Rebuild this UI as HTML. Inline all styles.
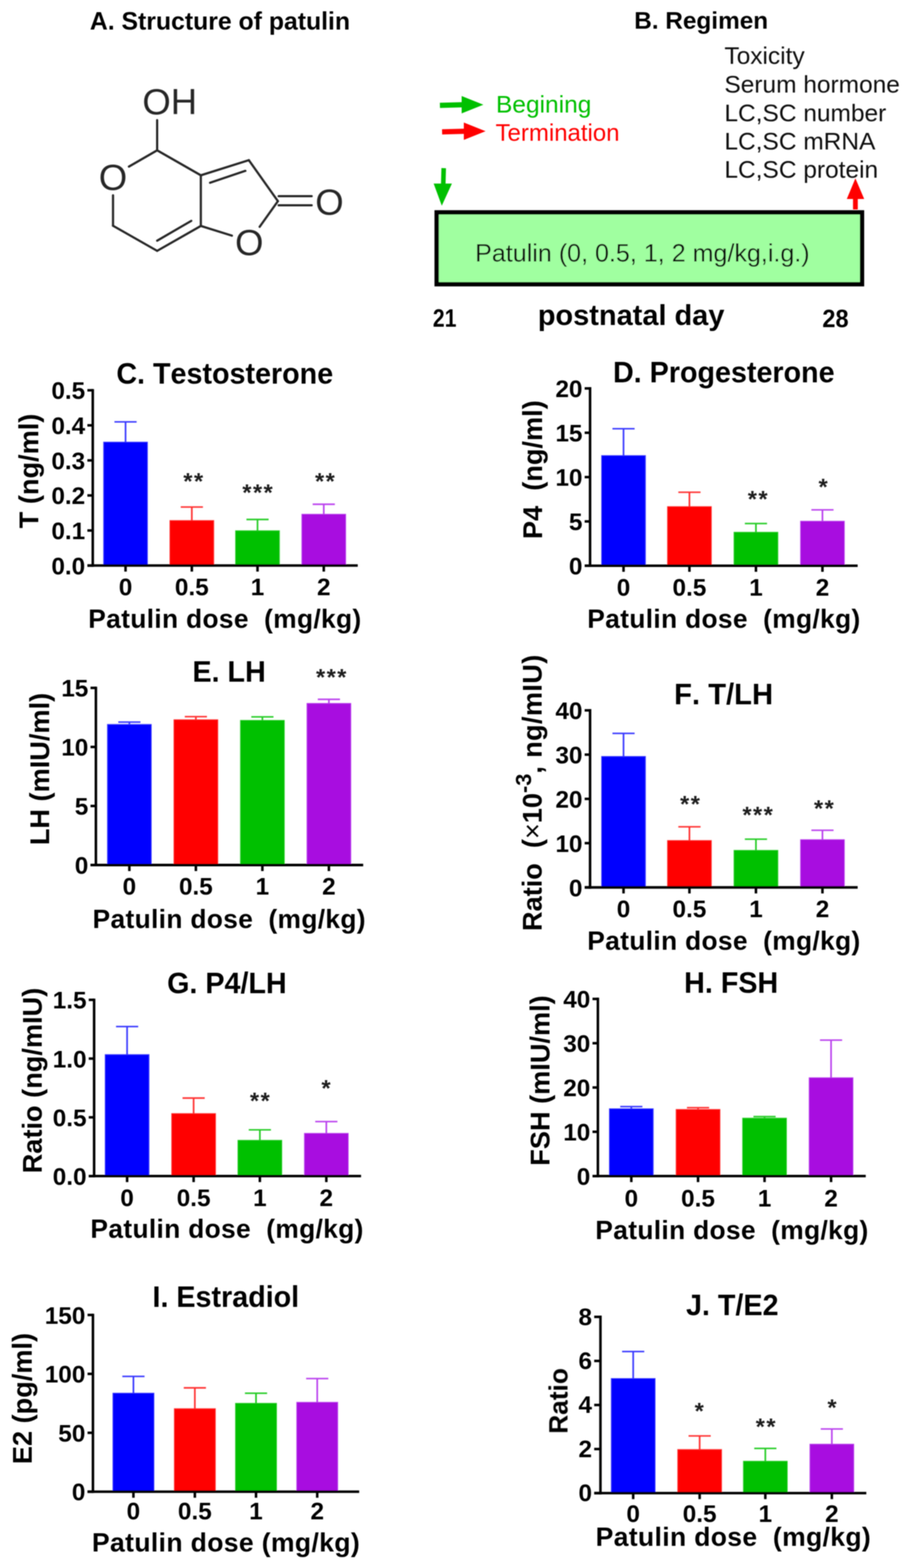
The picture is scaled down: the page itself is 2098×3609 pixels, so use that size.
<!DOCTYPE html>
<html lang="en">
<head>
<meta charset="utf-8">
<title>Patulin regimen and serum hormone levels</title>
<style>
html,body{margin:0;padding:0;background:#fff;}
body{width:2098px;height:3609px;overflow:hidden;}
svg{display:block;}
svg text{font-family:"Liberation Sans", sans-serif;white-space:pre;}
</style>
</head>
<body>
<svg width="2098" height="3609" viewBox="0 0 2098 3609">
<defs><filter id="soft" x="0" y="0" width="2098" height="3609" filterUnits="userSpaceOnUse"><feGaussianBlur stdDeviation="1"/></filter></defs>
<rect x="0" y="0" width="2098" height="3609" fill="#ffffff"/>
<g filter="url(#soft)">
<text x="506" y="68" font-size="57" font-weight="bold" text-anchor="middle" fill="#000">A. Structure of patulin</text>
<g id="patulin-structure">
<line x1="361.5" y1="276.5" x2="361.5" y2="346" stroke="#262626" stroke-width="5" stroke-linecap="round"/>
<line x1="361.5" y1="346" x2="296.5" y2="383.5" stroke="#262626" stroke-width="5" stroke-linecap="round"/>
<line x1="260" y1="449.5" x2="260" y2="519.6" stroke="#262626" stroke-width="5" stroke-linecap="round"/>
<line x1="260" y1="519.6" x2="361.5" y2="577.3" stroke="#262626" stroke-width="5" stroke-linecap="round"/>
<line x1="361.5" y1="577.3" x2="462" y2="520" stroke="#262626" stroke-width="5" stroke-linecap="round"/>
<line x1="462" y1="520" x2="462" y2="403.5" stroke="#262626" stroke-width="5" stroke-linecap="round"/>
<line x1="462" y1="403.5" x2="361.5" y2="346" stroke="#262626" stroke-width="5" stroke-linecap="round"/>
<line x1="462" y1="403.5" x2="572.5" y2="368.7" stroke="#262626" stroke-width="5" stroke-linecap="round"/>
<line x1="572.5" y1="368.7" x2="639.3" y2="463" stroke="#262626" stroke-width="5" stroke-linecap="round"/>
<line x1="639.3" y1="463" x2="597.3" y2="522" stroke="#262626" stroke-width="5" stroke-linecap="round"/>
<line x1="533.5" y1="542.4" x2="462" y2="520" stroke="#262626" stroke-width="5" stroke-linecap="round"/>
<line x1="361.5" y1="554" x2="440" y2="508.3" stroke="#262626" stroke-width="5" stroke-linecap="round"/>
<line x1="483.2" y1="420.6" x2="564.5" y2="393.2" stroke="#262626" stroke-width="5" stroke-linecap="round"/>
<line x1="641" y1="451.6" x2="717" y2="451.6" stroke="#262626" stroke-width="5" stroke-linecap="round"/>
<line x1="641" y1="472.6" x2="717" y2="472.6" stroke="#262626" stroke-width="5" stroke-linecap="round"/>
<text x="327.5" y="262.5" font-size="84" font-weight="normal" text-anchor="start" fill="#262626">OH</text>
<text x="260" y="436.5" font-size="84" font-weight="normal" text-anchor="middle" fill="#262626">O</text>
<text x="573.5" y="586.5" font-size="84" font-weight="normal" text-anchor="middle" fill="#262626">O</text>
<text x="757.8" y="493.8" font-size="84" font-weight="normal" text-anchor="middle" fill="#262626">O</text>
</g>
<g id="regimen">
<text x="1613" y="65.6" font-size="56" font-weight="bold" text-anchor="middle" fill="#000">B. Regimen</text>
<text x="1666.5" y="147" font-size="56.3" font-weight="normal" text-anchor="start" fill="#111">Toxicity</text>
<text x="1666.5" y="213" font-size="56.3" font-weight="normal" text-anchor="start" fill="#111">Serum hormone</text>
<text x="1666.5" y="278.5" font-size="56.3" font-weight="normal" text-anchor="start" fill="#111">LC,SC number</text>
<text x="1666.5" y="343.5" font-size="56.3" font-weight="normal" text-anchor="start" fill="#111">LC,SC mRNA</text>
<text x="1666.5" y="409" font-size="56.3" font-weight="normal" text-anchor="start" fill="#111">LC,SC protein</text>
<line x1="1012" y1="242.5" x2="1068" y2="241" stroke="#00c000" stroke-width="12" stroke-linecap="butt"/>
<polygon points="1112,241 1062,221 1062,261" fill="#00c000"/>
<line x1="1017" y1="303.5" x2="1073" y2="302" stroke="#ff0000" stroke-width="12" stroke-linecap="butt"/>
<polygon points="1117,302 1067,282 1067,322" fill="#ff0000"/>
<text x="1141" y="258.6" font-size="56.4" font-weight="normal" text-anchor="start" fill="#00c000">Begining</text>
<text x="1140" y="323.5" font-size="55.2" font-weight="normal" text-anchor="start" fill="#ff0000">Termination</text>
<line x1="1020.7" y1="387" x2="1019.5" y2="432" stroke="#00c000" stroke-width="10.5" stroke-linecap="butt"/>
<polygon points="1016.3,473.5 997.6,422.4 1039.6,422.4" fill="#00c000"/>
<line x1="1967.8" y1="482" x2="1967.8" y2="450" stroke="#ff0000" stroke-width="11" stroke-linecap="butt"/>
<polygon points="1967.8,410.5 1948,458 1988,458" fill="#ff0000"/>
<rect x="1004.5" y="488.8" width="978.5" height="165.4" fill="#a0ffa0" stroke="#000" stroke-width="10"/>
<text x="1093" y="601.8" font-size="57.7" font-weight="normal" text-anchor="start" fill="#111">Patulin (0, 0.5, 1, 2 mg/kg,i.g.)</text>
<text transform="translate(995.8 752) scale(0.84 1)" font-size="58" font-weight="bold" fill="#000">21</text>
<text x="1237.2" y="747.8" font-size="66.6" font-weight="bold" text-anchor="start" fill="#000">postnatal day</text>
<text transform="translate(1891.8 752.5) scale(0.935 1)" font-size="58" font-weight="bold" fill="#000">28</text>
</g>
<g id="charts" style="font-kerning:none">
<line x1="288.8" y1="971" x2="288.8" y2="1019" stroke="#3a3aff" stroke-width="3.8" stroke-linecap="butt"/>
<line x1="263.3" y1="971" x2="314.3" y2="971" stroke="#3a3aff" stroke-width="3.6" stroke-linecap="butt"/>
<rect x="238.3" y="1017.5" width="101" height="284.20000000000005" fill="#0000ff" stroke="#3a3aff" stroke-width="1.6"/>
<line x1="441.3" y1="1167" x2="441.3" y2="1199.5" stroke="#ff3030" stroke-width="3.8" stroke-linecap="butt"/>
<line x1="415.8" y1="1167" x2="466.8" y2="1167" stroke="#ff3030" stroke-width="3.6" stroke-linecap="butt"/>
<rect x="390.8" y="1198.0" width="101" height="103.70000000000005" fill="#ff0000" stroke="#ff3030" stroke-width="1.6"/>
<line x1="592.4" y1="1195.6" x2="592.4" y2="1223" stroke="#28cc28" stroke-width="3.8" stroke-linecap="butt"/>
<line x1="566.9" y1="1195.6" x2="617.9" y2="1195.6" stroke="#28cc28" stroke-width="3.6" stroke-linecap="butt"/>
<rect x="541.9" y="1221.5" width="101" height="80.20000000000005" fill="#00c000" stroke="#28cc28" stroke-width="1.6"/>
<line x1="744.8" y1="1160.6" x2="744.8" y2="1185" stroke="#bb44ee" stroke-width="3.8" stroke-linecap="butt"/>
<line x1="719.3" y1="1160.6" x2="770.3" y2="1160.6" stroke="#bb44ee" stroke-width="3.6" stroke-linecap="butt"/>
<rect x="694.3" y="1183.5" width="101" height="118.20000000000005" fill="#a808e0" stroke="#bb44ee" stroke-width="1.6"/>
<line x1="213.4" y1="895.4" x2="213.4" y2="1304.6000000000001" stroke="#000" stroke-width="5.8" stroke-linecap="butt"/>
<line x1="201.0" y1="1301.7" x2="823" y2="1301.7" stroke="#000" stroke-width="5.8" stroke-linecap="butt"/>
<line x1="201.0" y1="1301.7" x2="213.4" y2="1301.7" stroke="#000" stroke-width="5.8" stroke-linecap="butt"/>
<text x="196.0" y="1321.748" font-size="56" font-weight="bold" text-anchor="end" fill="#000">0.0</text>
<line x1="201.0" y1="1221.02" x2="213.4" y2="1221.02" stroke="#000" stroke-width="5.8" stroke-linecap="butt"/>
<text x="196.0" y="1241.068" font-size="56" font-weight="bold" text-anchor="end" fill="#000">0.1</text>
<line x1="201.0" y1="1140.34" x2="213.4" y2="1140.34" stroke="#000" stroke-width="5.8" stroke-linecap="butt"/>
<text x="196.0" y="1160.388" font-size="56" font-weight="bold" text-anchor="end" fill="#000">0.2</text>
<line x1="201.0" y1="1059.66" x2="213.4" y2="1059.66" stroke="#000" stroke-width="5.8" stroke-linecap="butt"/>
<text x="196.0" y="1079.708" font-size="56" font-weight="bold" text-anchor="end" fill="#000">0.3</text>
<line x1="201.0" y1="978.98" x2="213.4" y2="978.98" stroke="#000" stroke-width="5.8" stroke-linecap="butt"/>
<text x="196.0" y="999.028" font-size="56" font-weight="bold" text-anchor="end" fill="#000">0.4</text>
<line x1="201.0" y1="898.3" x2="213.4" y2="898.3" stroke="#000" stroke-width="5.8" stroke-linecap="butt"/>
<text x="196.0" y="918.348" font-size="56" font-weight="bold" text-anchor="end" fill="#000">0.5</text>
<line x1="288.8" y1="1301.7" x2="288.8" y2="1315.6000000000001" stroke="#000" stroke-width="5.8" stroke-linecap="butt"/>
<text x="288.8" y="1370" font-size="56" font-weight="bold" text-anchor="middle" fill="#000">0</text>
<line x1="441.3" y1="1301.7" x2="441.3" y2="1315.6000000000001" stroke="#000" stroke-width="5.8" stroke-linecap="butt"/>
<text x="441.3" y="1370" font-size="56" font-weight="bold" text-anchor="middle" fill="#000">0.5</text>
<line x1="592.4" y1="1301.7" x2="592.4" y2="1315.6000000000001" stroke="#000" stroke-width="5.8" stroke-linecap="butt"/>
<text x="592.4" y="1370" font-size="56" font-weight="bold" text-anchor="middle" fill="#000">1</text>
<line x1="744.8" y1="1301.7" x2="744.8" y2="1315.6000000000001" stroke="#000" stroke-width="5.8" stroke-linecap="butt"/>
<text x="744.8" y="1370" font-size="56" font-weight="bold" text-anchor="middle" fill="#000">2</text>
<text transform="translate(517 883) scale(0.9565 1)" font-size="69" font-weight="bold" text-anchor="middle" fill="#000">C. Testosterone</text>
<text x="517.4" y="1445" font-size="60.5" font-weight="bold" text-anchor="middle" fill="#000" xml:space="preserve" letter-spacing="0.8">Patulin dose  (mg/kg)</text>
<text x="88" y="1084" font-size="62.5" font-weight="bold" text-anchor="middle" fill="#000" transform="rotate(-90 88 1084)" xml:space="preserve">T (ng/ml)</text>
<text transform="translate(446.2 1126.4) scale(1 0.98)" font-size="54" font-weight="bold" text-anchor="middle" fill="#1c1c1c" letter-spacing="3.4">**</text>
<text transform="translate(594.1 1151.5) scale(1 0.98)" font-size="54" font-weight="bold" text-anchor="middle" fill="#1c1c1c" letter-spacing="3.4">***</text>
<text transform="translate(749.1 1126.4) scale(1 0.98)" font-size="54" font-weight="bold" text-anchor="middle" fill="#1c1c1c" letter-spacing="3.4">**</text>
<line x1="1434.4" y1="986.8" x2="1434.4" y2="1050" stroke="#3a3aff" stroke-width="3.8" stroke-linecap="butt"/>
<line x1="1408.9" y1="986.8" x2="1459.9" y2="986.8" stroke="#3a3aff" stroke-width="3.6" stroke-linecap="butt"/>
<rect x="1383.9" y="1048.5" width="101" height="253.70000000000005" fill="#0000ff" stroke="#3a3aff" stroke-width="1.6"/>
<line x1="1586.0" y1="1133" x2="1586.0" y2="1167.5" stroke="#ff3030" stroke-width="3.8" stroke-linecap="butt"/>
<line x1="1560.5" y1="1133" x2="1611.5" y2="1133" stroke="#ff3030" stroke-width="3.6" stroke-linecap="butt"/>
<rect x="1535.5" y="1166.0" width="101" height="136.20000000000005" fill="#ff0000" stroke="#ff3030" stroke-width="1.6"/>
<line x1="1739.0" y1="1205" x2="1739.0" y2="1226.5" stroke="#28cc28" stroke-width="3.8" stroke-linecap="butt"/>
<line x1="1713.5" y1="1205" x2="1764.5" y2="1205" stroke="#28cc28" stroke-width="3.6" stroke-linecap="butt"/>
<rect x="1688.5" y="1225.0" width="101" height="77.20000000000005" fill="#00c000" stroke="#28cc28" stroke-width="1.6"/>
<line x1="1892.0" y1="1173.5" x2="1892.0" y2="1201" stroke="#bb44ee" stroke-width="3.8" stroke-linecap="butt"/>
<line x1="1866.5" y1="1173.5" x2="1917.5" y2="1173.5" stroke="#bb44ee" stroke-width="3.6" stroke-linecap="butt"/>
<rect x="1841.5" y="1199.5" width="101" height="102.70000000000005" fill="#a808e0" stroke="#bb44ee" stroke-width="1.6"/>
<line x1="1357.4" y1="891.1" x2="1357.4" y2="1305.1000000000001" stroke="#000" stroke-width="5.8" stroke-linecap="butt"/>
<line x1="1345.0" y1="1302.2" x2="1973" y2="1302.2" stroke="#000" stroke-width="5.8" stroke-linecap="butt"/>
<line x1="1345.0" y1="1302.2" x2="1357.4" y2="1302.2" stroke="#000" stroke-width="5.8" stroke-linecap="butt"/>
<text x="1340.0" y="1322.248" font-size="56" font-weight="bold" text-anchor="end" fill="#000">0</text>
<line x1="1345.0" y1="1200.15" x2="1357.4" y2="1200.15" stroke="#000" stroke-width="5.8" stroke-linecap="butt"/>
<text x="1340.0" y="1220.198" font-size="56" font-weight="bold" text-anchor="end" fill="#000">5</text>
<line x1="1345.0" y1="1098.1" x2="1357.4" y2="1098.1" stroke="#000" stroke-width="5.8" stroke-linecap="butt"/>
<text x="1340.0" y="1118.148" font-size="56" font-weight="bold" text-anchor="end" fill="#000">10</text>
<line x1="1345.0" y1="996.05" x2="1357.4" y2="996.05" stroke="#000" stroke-width="5.8" stroke-linecap="butt"/>
<text x="1340.0" y="1016.098" font-size="56" font-weight="bold" text-anchor="end" fill="#000">15</text>
<line x1="1345.0" y1="894.0" x2="1357.4" y2="894.0" stroke="#000" stroke-width="5.8" stroke-linecap="butt"/>
<text x="1340.0" y="914.048" font-size="56" font-weight="bold" text-anchor="end" fill="#000">20</text>
<line x1="1434.4" y1="1302.2" x2="1434.4" y2="1316.1000000000001" stroke="#000" stroke-width="5.8" stroke-linecap="butt"/>
<text x="1434.4" y="1370.5" font-size="56" font-weight="bold" text-anchor="middle" fill="#000">0</text>
<line x1="1586.0" y1="1302.2" x2="1586.0" y2="1316.1000000000001" stroke="#000" stroke-width="5.8" stroke-linecap="butt"/>
<text x="1586.0" y="1370.5" font-size="56" font-weight="bold" text-anchor="middle" fill="#000">0.5</text>
<line x1="1739.0" y1="1302.2" x2="1739.0" y2="1316.1000000000001" stroke="#000" stroke-width="5.8" stroke-linecap="butt"/>
<text x="1739.0" y="1370.5" font-size="56" font-weight="bold" text-anchor="middle" fill="#000">1</text>
<line x1="1892.0" y1="1302.2" x2="1892.0" y2="1316.1000000000001" stroke="#000" stroke-width="5.8" stroke-linecap="butt"/>
<text x="1892.0" y="1370.5" font-size="56" font-weight="bold" text-anchor="middle" fill="#000">2</text>
<text transform="translate(1665 880) scale(0.9565 1)" font-size="69" font-weight="bold" text-anchor="middle" fill="#000">D. Progesterone</text>
<text x="1665.4" y="1445" font-size="60.5" font-weight="bold" text-anchor="middle" fill="#000" xml:space="preserve" letter-spacing="0.8">Patulin dose  (mg/kg)</text>
<text x="1247" y="1081" font-size="62.5" font-weight="bold" text-anchor="middle" fill="#000" transform="rotate(-90 1247 1081)" xml:space="preserve">P4  (ng/ml)</text>
<text transform="translate(1744.7 1167.3) scale(1 0.98)" font-size="54" font-weight="bold" text-anchor="middle" fill="#1c1c1c" letter-spacing="3.4">**</text>
<text transform="translate(1895.1 1138.9) scale(1 0.98)" font-size="54" font-weight="bold" text-anchor="middle" fill="#1c1c1c" letter-spacing="3.4">*</text>
<line x1="297.6" y1="1662" x2="297.6" y2="1668.8" stroke="#3a3aff" stroke-width="3.8" stroke-linecap="butt"/>
<line x1="272.1" y1="1662" x2="323.1" y2="1662" stroke="#3a3aff" stroke-width="3.6" stroke-linecap="butt"/>
<rect x="247.1" y="1667.3" width="101" height="323.70000000000005" fill="#0000ff" stroke="#3a3aff" stroke-width="1.6"/>
<line x1="450.6" y1="1649.5" x2="450.6" y2="1658" stroke="#ff3030" stroke-width="3.8" stroke-linecap="butt"/>
<line x1="425.1" y1="1649.5" x2="476.1" y2="1649.5" stroke="#ff3030" stroke-width="3.6" stroke-linecap="butt"/>
<rect x="400.1" y="1656.5" width="101" height="334.5" fill="#ff0000" stroke="#ff3030" stroke-width="1.6"/>
<line x1="603.6" y1="1650" x2="603.6" y2="1659.5" stroke="#28cc28" stroke-width="3.8" stroke-linecap="butt"/>
<line x1="578.1" y1="1650" x2="629.1" y2="1650" stroke="#28cc28" stroke-width="3.6" stroke-linecap="butt"/>
<rect x="553.1" y="1658.0" width="101" height="333.0" fill="#00c000" stroke="#28cc28" stroke-width="1.6"/>
<line x1="756.6" y1="1609.6" x2="756.6" y2="1620.4" stroke="#bb44ee" stroke-width="3.8" stroke-linecap="butt"/>
<line x1="731.1" y1="1609.6" x2="782.1" y2="1609.6" stroke="#bb44ee" stroke-width="3.6" stroke-linecap="butt"/>
<rect x="706.1" y="1618.9" width="101" height="372.0999999999999" fill="#a808e0" stroke="#bb44ee" stroke-width="1.6"/>
<line x1="220.6" y1="1580.3999999999999" x2="220.6" y2="1993.9" stroke="#000" stroke-width="5.8" stroke-linecap="butt"/>
<line x1="208.2" y1="1991" x2="835.5" y2="1991" stroke="#000" stroke-width="5.8" stroke-linecap="butt"/>
<line x1="208.2" y1="1991.0" x2="220.6" y2="1991.0" stroke="#000" stroke-width="5.8" stroke-linecap="butt"/>
<text x="203.2" y="2011.048" font-size="56" font-weight="bold" text-anchor="end" fill="#000">0</text>
<line x1="208.2" y1="1855.1" x2="220.6" y2="1855.1" stroke="#000" stroke-width="5.8" stroke-linecap="butt"/>
<text x="203.2" y="1875.148" font-size="56" font-weight="bold" text-anchor="end" fill="#000">5</text>
<line x1="208.2" y1="1719.2" x2="220.6" y2="1719.2" stroke="#000" stroke-width="5.8" stroke-linecap="butt"/>
<text x="203.2" y="1739.248" font-size="56" font-weight="bold" text-anchor="end" fill="#000">10</text>
<line x1="208.2" y1="1583.3" x2="220.6" y2="1583.3" stroke="#000" stroke-width="5.8" stroke-linecap="butt"/>
<text x="203.2" y="1603.348" font-size="56" font-weight="bold" text-anchor="end" fill="#000">15</text>
<line x1="297.6" y1="1991" x2="297.6" y2="2004.9" stroke="#000" stroke-width="5.8" stroke-linecap="butt"/>
<text x="297.6" y="2059.2" font-size="56" font-weight="bold" text-anchor="middle" fill="#000">0</text>
<line x1="450.6" y1="1991" x2="450.6" y2="2004.9" stroke="#000" stroke-width="5.8" stroke-linecap="butt"/>
<text x="450.6" y="2059.2" font-size="56" font-weight="bold" text-anchor="middle" fill="#000">0.5</text>
<line x1="603.6" y1="1991" x2="603.6" y2="2004.9" stroke="#000" stroke-width="5.8" stroke-linecap="butt"/>
<text x="603.6" y="2059.2" font-size="56" font-weight="bold" text-anchor="middle" fill="#000">1</text>
<line x1="756.6" y1="1991" x2="756.6" y2="2004.9" stroke="#000" stroke-width="5.8" stroke-linecap="butt"/>
<text x="756.6" y="2059.2" font-size="56" font-weight="bold" text-anchor="middle" fill="#000">2</text>
<text transform="translate(527 1568.5) scale(0.9565 1)" font-size="69" font-weight="bold" text-anchor="middle" fill="#000">E. LH</text>
<text x="527.4" y="2135.5" font-size="60.5" font-weight="bold" text-anchor="middle" fill="#000" xml:space="preserve" letter-spacing="0.8">Patulin dose  (mg/kg)</text>
<text x="113" y="1770" font-size="62.5" font-weight="bold" text-anchor="middle" fill="#000" transform="rotate(-90 113 1770)" xml:space="preserve">LH (mIU/ml)</text>
<text transform="translate(763.6 1577.0) scale(1 0.98)" font-size="54" font-weight="bold" text-anchor="middle" fill="#1c1c1c" letter-spacing="3.4">***</text>
<line x1="1434.4" y1="1688" x2="1434.4" y2="1742.5" stroke="#3a3aff" stroke-width="3.8" stroke-linecap="butt"/>
<line x1="1408.9" y1="1688" x2="1459.9" y2="1688" stroke="#3a3aff" stroke-width="3.6" stroke-linecap="butt"/>
<rect x="1383.9" y="1741.0" width="101" height="301.5" fill="#0000ff" stroke="#3a3aff" stroke-width="1.6"/>
<line x1="1586.0" y1="1903" x2="1586.0" y2="1936" stroke="#ff3030" stroke-width="3.8" stroke-linecap="butt"/>
<line x1="1560.5" y1="1903" x2="1611.5" y2="1903" stroke="#ff3030" stroke-width="3.6" stroke-linecap="butt"/>
<rect x="1535.5" y="1934.5" width="101" height="108.0" fill="#ff0000" stroke="#ff3030" stroke-width="1.6"/>
<line x1="1739.0" y1="1931.5" x2="1739.0" y2="1958.7" stroke="#28cc28" stroke-width="3.8" stroke-linecap="butt"/>
<line x1="1713.5" y1="1931.5" x2="1764.5" y2="1931.5" stroke="#28cc28" stroke-width="3.6" stroke-linecap="butt"/>
<rect x="1688.5" y="1957.2" width="101" height="85.29999999999995" fill="#00c000" stroke="#28cc28" stroke-width="1.6"/>
<line x1="1892.0" y1="1911" x2="1892.0" y2="1934" stroke="#bb44ee" stroke-width="3.8" stroke-linecap="butt"/>
<line x1="1866.5" y1="1911" x2="1917.5" y2="1911" stroke="#bb44ee" stroke-width="3.6" stroke-linecap="butt"/>
<rect x="1841.5" y="1932.5" width="101" height="110.0" fill="#a808e0" stroke="#bb44ee" stroke-width="1.6"/>
<line x1="1357.4" y1="1632.1" x2="1357.4" y2="2045.4" stroke="#000" stroke-width="5.8" stroke-linecap="butt"/>
<line x1="1345.0" y1="2042.5" x2="1973" y2="2042.5" stroke="#000" stroke-width="5.8" stroke-linecap="butt"/>
<line x1="1345.0" y1="2042.5" x2="1357.4" y2="2042.5" stroke="#000" stroke-width="5.8" stroke-linecap="butt"/>
<text x="1340.0" y="2062.548" font-size="56" font-weight="bold" text-anchor="end" fill="#000">0</text>
<line x1="1345.0" y1="1940.625" x2="1357.4" y2="1940.625" stroke="#000" stroke-width="5.8" stroke-linecap="butt"/>
<text x="1340.0" y="1960.673" font-size="56" font-weight="bold" text-anchor="end" fill="#000">10</text>
<line x1="1345.0" y1="1838.75" x2="1357.4" y2="1838.75" stroke="#000" stroke-width="5.8" stroke-linecap="butt"/>
<text x="1340.0" y="1858.798" font-size="56" font-weight="bold" text-anchor="end" fill="#000">20</text>
<line x1="1345.0" y1="1736.875" x2="1357.4" y2="1736.875" stroke="#000" stroke-width="5.8" stroke-linecap="butt"/>
<text x="1340.0" y="1756.923" font-size="56" font-weight="bold" text-anchor="end" fill="#000">30</text>
<line x1="1345.0" y1="1635.0" x2="1357.4" y2="1635.0" stroke="#000" stroke-width="5.8" stroke-linecap="butt"/>
<text x="1340.0" y="1655.048" font-size="56" font-weight="bold" text-anchor="end" fill="#000">40</text>
<line x1="1434.4" y1="2042.5" x2="1434.4" y2="2056.4" stroke="#000" stroke-width="5.8" stroke-linecap="butt"/>
<text x="1434.4" y="2111" font-size="56" font-weight="bold" text-anchor="middle" fill="#000">0</text>
<line x1="1586.0" y1="2042.5" x2="1586.0" y2="2056.4" stroke="#000" stroke-width="5.8" stroke-linecap="butt"/>
<text x="1586.0" y="2111" font-size="56" font-weight="bold" text-anchor="middle" fill="#000">0.5</text>
<line x1="1739.0" y1="2042.5" x2="1739.0" y2="2056.4" stroke="#000" stroke-width="5.8" stroke-linecap="butt"/>
<text x="1739.0" y="2111" font-size="56" font-weight="bold" text-anchor="middle" fill="#000">1</text>
<line x1="1892.0" y1="2042.5" x2="1892.0" y2="2056.4" stroke="#000" stroke-width="5.8" stroke-linecap="butt"/>
<text x="1892.0" y="2111" font-size="56" font-weight="bold" text-anchor="middle" fill="#000">2</text>
<text transform="translate(1664.6 1620.5) scale(0.9739 1)" font-size="69" font-weight="bold" text-anchor="middle" fill="#000">F. T/LH</text>
<text x="1665.4" y="2186" font-size="60.5" font-weight="bold" text-anchor="middle" fill="#000" xml:space="preserve" letter-spacing="0.8">Patulin dose  (mg/kg)</text>
<text x="1246" y="2143" font-size="62.5" font-weight="bold" text-anchor="start" fill="#000" transform="rotate(-90 1246 2143)" xml:space="preserve">Ratio  (<tspan font-weight="normal">×</tspan>10<tspan dy="-24.5" font-size="50">-3</tspan><tspan dy="24.5" letter-spacing="0.8">, ng/mIU)</tspan></text>
<text transform="translate(1589.0 1869.4) scale(1 0.98)" font-size="54" font-weight="bold" text-anchor="middle" fill="#1c1c1c" letter-spacing="3.4">**</text>
<text transform="translate(1744.5 1894.3) scale(1 0.98)" font-size="54" font-weight="bold" text-anchor="middle" fill="#1c1c1c" letter-spacing="3.4">***</text>
<text transform="translate(1896.9 1879.3) scale(1 0.98)" font-size="54" font-weight="bold" text-anchor="middle" fill="#1c1c1c" letter-spacing="3.4">**</text>
<line x1="292.4" y1="2362.8" x2="292.4" y2="2428.7" stroke="#3a3aff" stroke-width="3.8" stroke-linecap="butt"/>
<line x1="266.9" y1="2362.8" x2="317.9" y2="2362.8" stroke="#3a3aff" stroke-width="3.6" stroke-linecap="butt"/>
<rect x="241.9" y="2427.2" width="101" height="279.7000000000003" fill="#0000ff" stroke="#3a3aff" stroke-width="1.6"/>
<line x1="445.4" y1="2527.4" x2="445.4" y2="2564.5" stroke="#ff3030" stroke-width="3.8" stroke-linecap="butt"/>
<line x1="419.9" y1="2527.4" x2="470.9" y2="2527.4" stroke="#ff3030" stroke-width="3.6" stroke-linecap="butt"/>
<rect x="394.9" y="2563.0" width="101" height="143.9000000000001" fill="#ff0000" stroke="#ff3030" stroke-width="1.6"/>
<line x1="597.8" y1="2600.5" x2="597.8" y2="2626" stroke="#28cc28" stroke-width="3.8" stroke-linecap="butt"/>
<line x1="572.3" y1="2600.5" x2="623.3" y2="2600.5" stroke="#28cc28" stroke-width="3.6" stroke-linecap="butt"/>
<rect x="547.3" y="2624.5" width="101" height="82.40000000000009" fill="#00c000" stroke="#28cc28" stroke-width="1.6"/>
<line x1="750.7" y1="2581.5" x2="750.7" y2="2610" stroke="#bb44ee" stroke-width="3.8" stroke-linecap="butt"/>
<line x1="725.2" y1="2581.5" x2="776.2" y2="2581.5" stroke="#bb44ee" stroke-width="3.6" stroke-linecap="butt"/>
<rect x="700.2" y="2608.5" width="101" height="98.40000000000009" fill="#a808e0" stroke="#bb44ee" stroke-width="1.6"/>
<line x1="216.5" y1="2298.4" x2="216.5" y2="2709.8" stroke="#000" stroke-width="5.8" stroke-linecap="butt"/>
<line x1="204.1" y1="2706.9" x2="830.6" y2="2706.9" stroke="#000" stroke-width="5.8" stroke-linecap="butt"/>
<line x1="204.1" y1="2706.9" x2="216.5" y2="2706.9" stroke="#000" stroke-width="5.8" stroke-linecap="butt"/>
<text x="199.1" y="2726.948" font-size="56" font-weight="bold" text-anchor="end" fill="#000">0.0</text>
<line x1="204.1" y1="2571.7000000000003" x2="216.5" y2="2571.7000000000003" stroke="#000" stroke-width="5.8" stroke-linecap="butt"/>
<text x="199.1" y="2591.748" font-size="56" font-weight="bold" text-anchor="end" fill="#000">0.5</text>
<line x1="204.1" y1="2436.5" x2="216.5" y2="2436.5" stroke="#000" stroke-width="5.8" stroke-linecap="butt"/>
<text x="199.1" y="2456.548" font-size="56" font-weight="bold" text-anchor="end" fill="#000">1.0</text>
<line x1="204.1" y1="2301.3" x2="216.5" y2="2301.3" stroke="#000" stroke-width="5.8" stroke-linecap="butt"/>
<text x="199.1" y="2321.348" font-size="56" font-weight="bold" text-anchor="end" fill="#000">1.5</text>
<line x1="292.4" y1="2706.9" x2="292.4" y2="2720.8" stroke="#000" stroke-width="5.8" stroke-linecap="butt"/>
<text x="292.4" y="2775.6" font-size="56" font-weight="bold" text-anchor="middle" fill="#000">0</text>
<line x1="445.4" y1="2706.9" x2="445.4" y2="2720.8" stroke="#000" stroke-width="5.8" stroke-linecap="butt"/>
<text x="445.4" y="2775.6" font-size="56" font-weight="bold" text-anchor="middle" fill="#000">0.5</text>
<line x1="597.8" y1="2706.9" x2="597.8" y2="2720.8" stroke="#000" stroke-width="5.8" stroke-linecap="butt"/>
<text x="597.8" y="2775.6" font-size="56" font-weight="bold" text-anchor="middle" fill="#000">1</text>
<line x1="750.7" y1="2706.9" x2="750.7" y2="2720.8" stroke="#000" stroke-width="5.8" stroke-linecap="butt"/>
<text x="750.7" y="2775.6" font-size="56" font-weight="bold" text-anchor="middle" fill="#000">2</text>
<text transform="translate(522 2286) scale(0.9565 1)" font-size="69" font-weight="bold" text-anchor="middle" fill="#000">G. P4/LH</text>
<text x="522.4" y="2849" font-size="60.5" font-weight="bold" text-anchor="middle" fill="#000" xml:space="preserve" letter-spacing="0.8">Patulin dose  (mg/kg)</text>
<text x="96" y="2487" font-size="62.5" font-weight="bold" text-anchor="middle" fill="#000" transform="rotate(-90 96 2487)" xml:space="preserve">Ratio (ng/mIU)</text>
<text transform="translate(599.5 2552.2) scale(1 0.98)" font-size="54" font-weight="bold" text-anchor="middle" fill="#1c1c1c" letter-spacing="3.4">**</text>
<text transform="translate(751.6 2523.0) scale(1 0.98)" font-size="54" font-weight="bold" text-anchor="middle" fill="#1c1c1c" letter-spacing="3.4">*</text>
<line x1="1452.3" y1="2547" x2="1452.3" y2="2553.4" stroke="#3a3aff" stroke-width="3.8" stroke-linecap="butt"/>
<line x1="1426.8" y1="2547" x2="1477.8" y2="2547" stroke="#3a3aff" stroke-width="3.6" stroke-linecap="butt"/>
<rect x="1401.8" y="2551.9" width="101" height="155.0" fill="#0000ff" stroke="#3a3aff" stroke-width="1.6"/>
<line x1="1605.8" y1="2549.5" x2="1605.8" y2="2555" stroke="#ff3030" stroke-width="3.8" stroke-linecap="butt"/>
<line x1="1580.3" y1="2549.5" x2="1631.3" y2="2549.5" stroke="#ff3030" stroke-width="3.6" stroke-linecap="butt"/>
<rect x="1555.3" y="2553.5" width="101" height="153.4000000000001" fill="#ff0000" stroke="#ff3030" stroke-width="1.6"/>
<line x1="1758.8" y1="2570" x2="1758.8" y2="2575" stroke="#28cc28" stroke-width="3.8" stroke-linecap="butt"/>
<line x1="1733.3" y1="2570" x2="1784.3" y2="2570" stroke="#28cc28" stroke-width="3.6" stroke-linecap="butt"/>
<rect x="1708.3" y="2573.5" width="101" height="133.4000000000001" fill="#00c000" stroke="#28cc28" stroke-width="1.6"/>
<line x1="1911.8" y1="2394" x2="1911.8" y2="2482" stroke="#bb44ee" stroke-width="3.8" stroke-linecap="butt"/>
<line x1="1886.3" y1="2394" x2="1937.3" y2="2394" stroke="#bb44ee" stroke-width="3.6" stroke-linecap="butt"/>
<rect x="1861.3" y="2480.5" width="101" height="226.4000000000001" fill="#a808e0" stroke="#bb44ee" stroke-width="1.6"/>
<line x1="1375.4" y1="2296.2999999999997" x2="1375.4" y2="2709.8" stroke="#000" stroke-width="5.8" stroke-linecap="butt"/>
<line x1="1363.0" y1="2706.9" x2="1991.6" y2="2706.9" stroke="#000" stroke-width="5.8" stroke-linecap="butt"/>
<line x1="1363.0" y1="2706.9" x2="1375.4" y2="2706.9" stroke="#000" stroke-width="5.8" stroke-linecap="butt"/>
<text x="1358.0" y="2726.948" font-size="56" font-weight="bold" text-anchor="end" fill="#000">0</text>
<line x1="1363.0" y1="2604.975" x2="1375.4" y2="2604.975" stroke="#000" stroke-width="5.8" stroke-linecap="butt"/>
<text x="1358.0" y="2625.0229999999997" font-size="56" font-weight="bold" text-anchor="end" fill="#000">10</text>
<line x1="1363.0" y1="2503.05" x2="1375.4" y2="2503.05" stroke="#000" stroke-width="5.8" stroke-linecap="butt"/>
<text x="1358.0" y="2523.098" font-size="56" font-weight="bold" text-anchor="end" fill="#000">20</text>
<line x1="1363.0" y1="2401.125" x2="1375.4" y2="2401.125" stroke="#000" stroke-width="5.8" stroke-linecap="butt"/>
<text x="1358.0" y="2421.173" font-size="56" font-weight="bold" text-anchor="end" fill="#000">30</text>
<line x1="1363.0" y1="2299.2" x2="1375.4" y2="2299.2" stroke="#000" stroke-width="5.8" stroke-linecap="butt"/>
<text x="1358.0" y="2319.2479999999996" font-size="56" font-weight="bold" text-anchor="end" fill="#000">40</text>
<line x1="1452.3" y1="2706.9" x2="1452.3" y2="2720.8" stroke="#000" stroke-width="5.8" stroke-linecap="butt"/>
<text x="1452.3" y="2776.6" font-size="56" font-weight="bold" text-anchor="middle" fill="#000">0</text>
<line x1="1605.8" y1="2706.9" x2="1605.8" y2="2720.8" stroke="#000" stroke-width="5.8" stroke-linecap="butt"/>
<text x="1605.8" y="2776.6" font-size="56" font-weight="bold" text-anchor="middle" fill="#000">0.5</text>
<line x1="1758.8" y1="2706.9" x2="1758.8" y2="2720.8" stroke="#000" stroke-width="5.8" stroke-linecap="butt"/>
<text x="1758.8" y="2776.6" font-size="56" font-weight="bold" text-anchor="middle" fill="#000">1</text>
<line x1="1911.8" y1="2706.9" x2="1911.8" y2="2720.8" stroke="#000" stroke-width="5.8" stroke-linecap="butt"/>
<text x="1911.8" y="2776.6" font-size="56" font-weight="bold" text-anchor="middle" fill="#000">2</text>
<text transform="translate(1682 2285) scale(0.9565 1)" font-size="69" font-weight="bold" text-anchor="middle" fill="#000">H. FSH</text>
<text x="1683.9" y="2851.5" font-size="60.5" font-weight="bold" text-anchor="middle" fill="#000" xml:space="preserve" letter-spacing="0.8">Patulin dose  (mg/kg)</text>
<text x="1264" y="2487" font-size="62.5" font-weight="bold" text-anchor="middle" fill="#000" transform="rotate(-90 1264 2487)" xml:space="preserve">FSH (mIU/ml)</text>
<line x1="306.95" y1="3168" x2="306.95" y2="3208" stroke="#3a3aff" stroke-width="3.8" stroke-linecap="butt"/>
<line x1="281.45" y1="3168" x2="332.45" y2="3168" stroke="#3a3aff" stroke-width="3.6" stroke-linecap="butt"/>
<rect x="259.7" y="3206.5" width="94.5" height="226.9000000000001" fill="#0000ff" stroke="#3a3aff" stroke-width="1.6"/>
<line x1="448.25" y1="3194.4" x2="448.25" y2="3243.7" stroke="#ff3030" stroke-width="3.8" stroke-linecap="butt"/>
<line x1="422.75" y1="3194.4" x2="473.75" y2="3194.4" stroke="#ff3030" stroke-width="3.6" stroke-linecap="butt"/>
<rect x="401.0" y="3242.2" width="94.5" height="191.20000000000027" fill="#ff0000" stroke="#ff3030" stroke-width="1.6"/>
<line x1="588.95" y1="3206.7" x2="588.95" y2="3231.4" stroke="#28cc28" stroke-width="3.8" stroke-linecap="butt"/>
<line x1="563.45" y1="3206.7" x2="614.45" y2="3206.7" stroke="#28cc28" stroke-width="3.6" stroke-linecap="butt"/>
<rect x="541.7" y="3229.9" width="94.5" height="203.5" fill="#00c000" stroke="#28cc28" stroke-width="1.6"/>
<line x1="729.75" y1="3173" x2="729.75" y2="3229" stroke="#bb44ee" stroke-width="3.8" stroke-linecap="butt"/>
<line x1="704.25" y1="3173" x2="755.25" y2="3173" stroke="#bb44ee" stroke-width="3.6" stroke-linecap="butt"/>
<rect x="682.5" y="3227.5" width="94.5" height="205.9000000000001" fill="#a808e0" stroke="#bb44ee" stroke-width="1.6"/>
<line x1="213.8" y1="3023.7" x2="213.8" y2="3436.3" stroke="#000" stroke-width="5.8" stroke-linecap="butt"/>
<line x1="201.4" y1="3433.4" x2="826.3" y2="3433.4" stroke="#000" stroke-width="5.8" stroke-linecap="butt"/>
<line x1="201.4" y1="3433.4" x2="213.8" y2="3433.4" stroke="#000" stroke-width="5.8" stroke-linecap="butt"/>
<text x="196.4" y="3453.448" font-size="56" font-weight="bold" text-anchor="end" fill="#000">0</text>
<line x1="201.4" y1="3297.8" x2="213.8" y2="3297.8" stroke="#000" stroke-width="5.8" stroke-linecap="butt"/>
<text x="196.4" y="3317.848" font-size="56" font-weight="bold" text-anchor="end" fill="#000">50</text>
<line x1="201.4" y1="3162.2" x2="213.8" y2="3162.2" stroke="#000" stroke-width="5.8" stroke-linecap="butt"/>
<text x="196.4" y="3182.2479999999996" font-size="56" font-weight="bold" text-anchor="end" fill="#000">100</text>
<line x1="201.4" y1="3026.6" x2="213.8" y2="3026.6" stroke="#000" stroke-width="5.8" stroke-linecap="butt"/>
<text x="196.4" y="3046.6479999999997" font-size="56" font-weight="bold" text-anchor="end" fill="#000">150</text>
<line x1="306.95" y1="3433.4" x2="306.95" y2="3447.3" stroke="#000" stroke-width="5.8" stroke-linecap="butt"/>
<text x="306.95" y="3497" font-size="56" font-weight="bold" text-anchor="middle" fill="#000">0</text>
<line x1="448.25" y1="3433.4" x2="448.25" y2="3447.3" stroke="#000" stroke-width="5.8" stroke-linecap="butt"/>
<text x="448.25" y="3497" font-size="56" font-weight="bold" text-anchor="middle" fill="#000">0.5</text>
<line x1="588.95" y1="3433.4" x2="588.95" y2="3447.3" stroke="#000" stroke-width="5.8" stroke-linecap="butt"/>
<text x="588.95" y="3497" font-size="56" font-weight="bold" text-anchor="middle" fill="#000">1</text>
<line x1="729.75" y1="3433.4" x2="729.75" y2="3447.3" stroke="#000" stroke-width="5.8" stroke-linecap="butt"/>
<text x="729.75" y="3497" font-size="56" font-weight="bold" text-anchor="middle" fill="#000">2</text>
<text transform="translate(519.5 3007.6) scale(0.9565 1)" font-size="69" font-weight="bold" text-anchor="middle" fill="#000">I. Estradiol</text>
<text x="519.9" y="3571" font-size="61.1" font-weight="bold" text-anchor="middle" fill="#000" xml:space="preserve" letter-spacing="0.8">Patulin dose (mg/kg)</text>
<text x="73" y="3219" font-size="62.5" font-weight="bold" text-anchor="middle" fill="#000" transform="rotate(-90 73 3219)" xml:space="preserve">E2 (pg/ml)</text>
<line x1="1456.6" y1="3110.8" x2="1456.6" y2="3174.3" stroke="#3a3aff" stroke-width="3.8" stroke-linecap="butt"/>
<line x1="1431.1" y1="3110.8" x2="1482.1" y2="3110.8" stroke="#3a3aff" stroke-width="3.6" stroke-linecap="butt"/>
<rect x="1406.1" y="3172.8" width="101" height="263.7999999999997" fill="#0000ff" stroke="#3a3aff" stroke-width="1.6"/>
<line x1="1609.5" y1="3305" x2="1609.5" y2="3337.7" stroke="#ff3030" stroke-width="3.8" stroke-linecap="butt"/>
<line x1="1584.0" y1="3305" x2="1635.0" y2="3305" stroke="#ff3030" stroke-width="3.6" stroke-linecap="butt"/>
<rect x="1559.0" y="3336.2" width="101" height="100.40000000000009" fill="#ff0000" stroke="#ff3030" stroke-width="1.6"/>
<line x1="1760.6" y1="3333.8" x2="1760.6" y2="3364.7" stroke="#28cc28" stroke-width="3.8" stroke-linecap="butt"/>
<line x1="1735.1" y1="3333.8" x2="1786.1" y2="3333.8" stroke="#28cc28" stroke-width="3.6" stroke-linecap="butt"/>
<rect x="1710.1" y="3363.2" width="101" height="73.40000000000009" fill="#00c000" stroke="#28cc28" stroke-width="1.6"/>
<line x1="1913.6" y1="3289" x2="1913.6" y2="3325.4" stroke="#bb44ee" stroke-width="3.8" stroke-linecap="butt"/>
<line x1="1888.1" y1="3289" x2="1939.1" y2="3289" stroke="#bb44ee" stroke-width="3.6" stroke-linecap="butt"/>
<rect x="1863.1" y="3323.9" width="101" height="112.69999999999982" fill="#a808e0" stroke="#bb44ee" stroke-width="1.6"/>
<line x1="1381.3" y1="3028.1" x2="1381.3" y2="3439.5" stroke="#000" stroke-width="5.8" stroke-linecap="butt"/>
<line x1="1366.8999999999999" y1="3436.6" x2="1992.9" y2="3436.6" stroke="#000" stroke-width="5.8" stroke-linecap="butt"/>
<line x1="1366.8999999999999" y1="3436.6" x2="1381.3" y2="3436.6" stroke="#000" stroke-width="5.8" stroke-linecap="butt"/>
<text x="1361.8999999999999" y="3455.1479999999997" font-size="56" font-weight="bold" text-anchor="end" fill="#000">0</text>
<line x1="1366.8999999999999" y1="3335.2" x2="1381.3" y2="3335.2" stroke="#000" stroke-width="5.8" stroke-linecap="butt"/>
<text x="1361.8999999999999" y="3353.7479999999996" font-size="56" font-weight="bold" text-anchor="end" fill="#000">2</text>
<line x1="1366.8999999999999" y1="3233.8" x2="1381.3" y2="3233.8" stroke="#000" stroke-width="5.8" stroke-linecap="butt"/>
<text x="1361.8999999999999" y="3252.348" font-size="56" font-weight="bold" text-anchor="end" fill="#000">4</text>
<line x1="1366.8999999999999" y1="3132.4" x2="1381.3" y2="3132.4" stroke="#000" stroke-width="5.8" stroke-linecap="butt"/>
<text x="1361.8999999999999" y="3150.948" font-size="56" font-weight="bold" text-anchor="end" fill="#000">6</text>
<line x1="1366.8999999999999" y1="3031.0" x2="1381.3" y2="3031.0" stroke="#000" stroke-width="5.8" stroke-linecap="butt"/>
<text x="1361.8999999999999" y="3049.548" font-size="56" font-weight="bold" text-anchor="end" fill="#000">8</text>
<line x1="1456.6" y1="3436.6" x2="1456.6" y2="3450.5" stroke="#000" stroke-width="5.8" stroke-linecap="butt"/>
<text x="1456.6" y="3503.3" font-size="56" font-weight="bold" text-anchor="middle" fill="#000">0</text>
<line x1="1609.5" y1="3436.6" x2="1609.5" y2="3450.5" stroke="#000" stroke-width="5.8" stroke-linecap="butt"/>
<text x="1609.5" y="3503.3" font-size="56" font-weight="bold" text-anchor="middle" fill="#000">0.5</text>
<line x1="1760.6" y1="3436.6" x2="1760.6" y2="3450.5" stroke="#000" stroke-width="5.8" stroke-linecap="butt"/>
<text x="1760.6" y="3503.3" font-size="56" font-weight="bold" text-anchor="middle" fill="#000">1</text>
<line x1="1913.6" y1="3436.6" x2="1913.6" y2="3450.5" stroke="#000" stroke-width="5.8" stroke-linecap="butt"/>
<text x="1913.6" y="3503.3" font-size="56" font-weight="bold" text-anchor="middle" fill="#000">2</text>
<text transform="translate(1684.5 3027.3) scale(0.9565 1)" font-size="69" font-weight="bold" text-anchor="middle" fill="#000">J. T/E2</text>
<text x="1687.1" y="3558.3" font-size="61.0" font-weight="bold" text-anchor="middle" fill="#000" xml:space="preserve" letter-spacing="0.8">Patulin dose  (mg/kg)</text>
<text x="1305" y="3224.5" font-size="60.5" font-weight="bold" text-anchor="middle" fill="#000" transform="rotate(-90 1305 3224.5)" xml:space="preserve">Ratio</text>
<text transform="translate(1610.3 3266.4) scale(1 0.98)" font-size="54" font-weight="bold" text-anchor="middle" fill="#1c1c1c" letter-spacing="3.4">*</text>
<text transform="translate(1763.0 3301.9) scale(1 0.98)" font-size="54" font-weight="bold" text-anchor="middle" fill="#1c1c1c" letter-spacing="3.4">**</text>
<text transform="translate(1915.8 3257.5) scale(1 0.98)" font-size="54" font-weight="bold" text-anchor="middle" fill="#1c1c1c" letter-spacing="3.4">*</text>
</g>
</g>
</svg>
</body>
</html>
